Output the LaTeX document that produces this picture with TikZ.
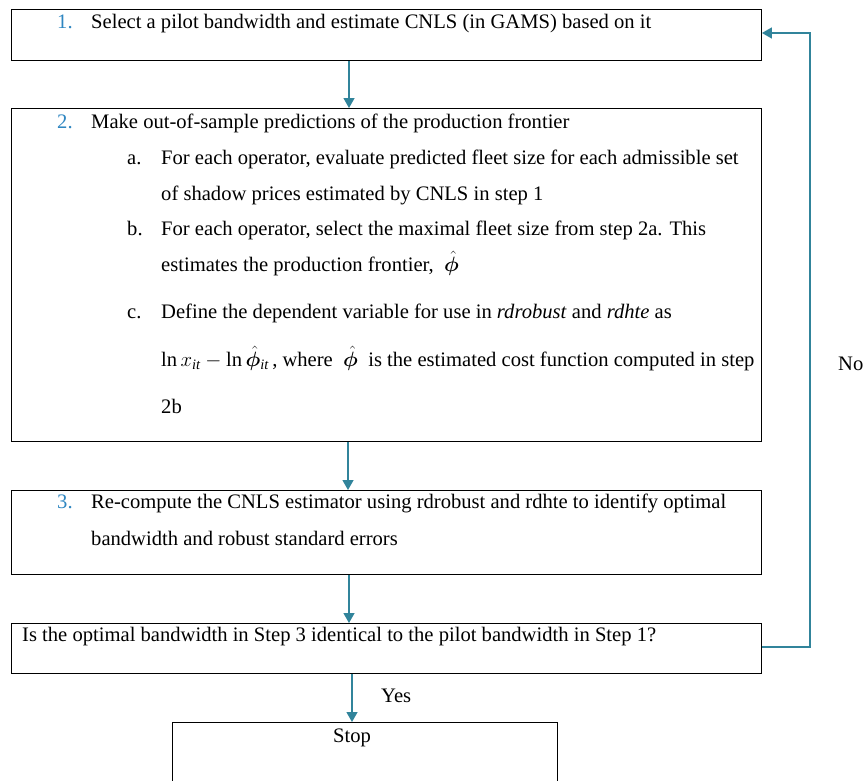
\documentclass[tikz,border=0pt]{standalone}
\usepackage{amsmath}
\usepackage{bm}
\usepackage{fontspec}
\setmainfont{Liberation Serif}
\usetikzlibrary{arrows.meta}
\definecolor{numblue}{HTML}{2E86C1}
\definecolor{tealarrow}{HTML}{31849B}
\begin{document}
\begin{tikzpicture}[x=1pt,y=-1pt,
  box/.style={draw=black,line width=0.9pt,inner sep=0pt,anchor=north west},
  txt/.style={anchor=base west,inner sep=0pt,font=\fontsize{20.6}{24}\selectfont},
  num/.style={txt,text=numblue},
  arr/.style={draw=tealarrow,line width=1.3pt,-{Triangle[length=10pt,width=11pt]}}
]
\clip (0,0) rectangle (867,780);
\fill[white] (0,0) rectangle (867,780);
% boxes
\node[box,minimum width=750pt,minimum height=51pt] (b1) at (11,9) {};
\node[box,minimum width=750pt,minimum height=333pt] (b2) at (11,108) {};
\node[box,minimum width=750pt,minimum height=84pt] (b3) at (11,490) {};
\node[box,minimum width=750pt,minimum height=50pt] (b4) at (11,623) {};
\node[box,minimum width=385pt,minimum height=80pt] (b5) at (172,722) {};
% box 1 text
\node[num] (n1) at (57,28) {1.};
\node[txt] (t1) at (91,28) {Select a pilot bandwidth and estimate CNLS (in GAMS) based on it};
% box 2 text
\node[num] (n2) at (57,128) {2.};
\node[txt] (t2) at (91,128) {Make out-of-sample predictions of the production frontier};
\node[txt] (la) at (127,164) {a.};
\node[txt] (ta1) at (161,164) {For each operator, evaluate predicted fleet size for each admissible set};
\node[txt] (ta2) at (161,200) {of shadow prices estimated by CNLS in step 1};
\node[txt] (lb) at (127,235) {b.};
\node[txt] (tb1) at (161,235) {For each operator, select the maximal fleet size from step 2a. This};
\node[txt] (tb2) at (161,271) {estimates the production frontier, \ $\bm{\hat{\phi}}$};
\node[txt] (lc) at (127,318) {c.};
\node[txt] (tc1) at (161,318) {Define the dependent variable for use in \textit{rdrobust} and \textit{rdhte} as};
\node[txt] (tc2) at (161,366) {$\ln x_{\mathit{it}} - \ln \bm{\hat{\phi}}_{\mathit{it}}$\,, where \ $\bm{\hat{\phi}}$ \ is the estimated cost function computed in step};
\node[txt] (tc3) at (161,413) {2b};
% box 3 text
\node[num] (n3) at (57,508) {3.};
\node[txt] (t3a) at (91,508) {Re-compute the CNLS estimator using rdrobust and rdhte to identify optimal};
\node[txt] (t3b) at (91,545) {bandwidth and robust standard errors};
% box 4 text
\node[txt] (t4) at (22,641) {Is the optimal bandwidth in Step 3 identical to the pilot bandwidth in Step 1?};
% stop
\node[txt] (t5) at (333,742) {Stop};
% labels
\node[txt] (yes) at (381,702) {Yes};
\node[txt] (no) at (838,370) {No};
% arrows
\draw[arr] (b1.south -| 349,0) -- (b2.north -| 349,0);
\draw[arr] (b2.south -| 348,0) -- (b3.north -| 348,0);
\draw[arr] (b3.south -| 349,0) -- (b4.north -| 349,0);
\draw[arr] (b4.south -| 352,0) -- (b5.north -| 352,0);
\coordinate (fb) at (810,400);
\draw[arr] (b4.east |- 0,647) -| (fb) |- (b1.east |- 0,33);
\end{tikzpicture}
\end{document}
